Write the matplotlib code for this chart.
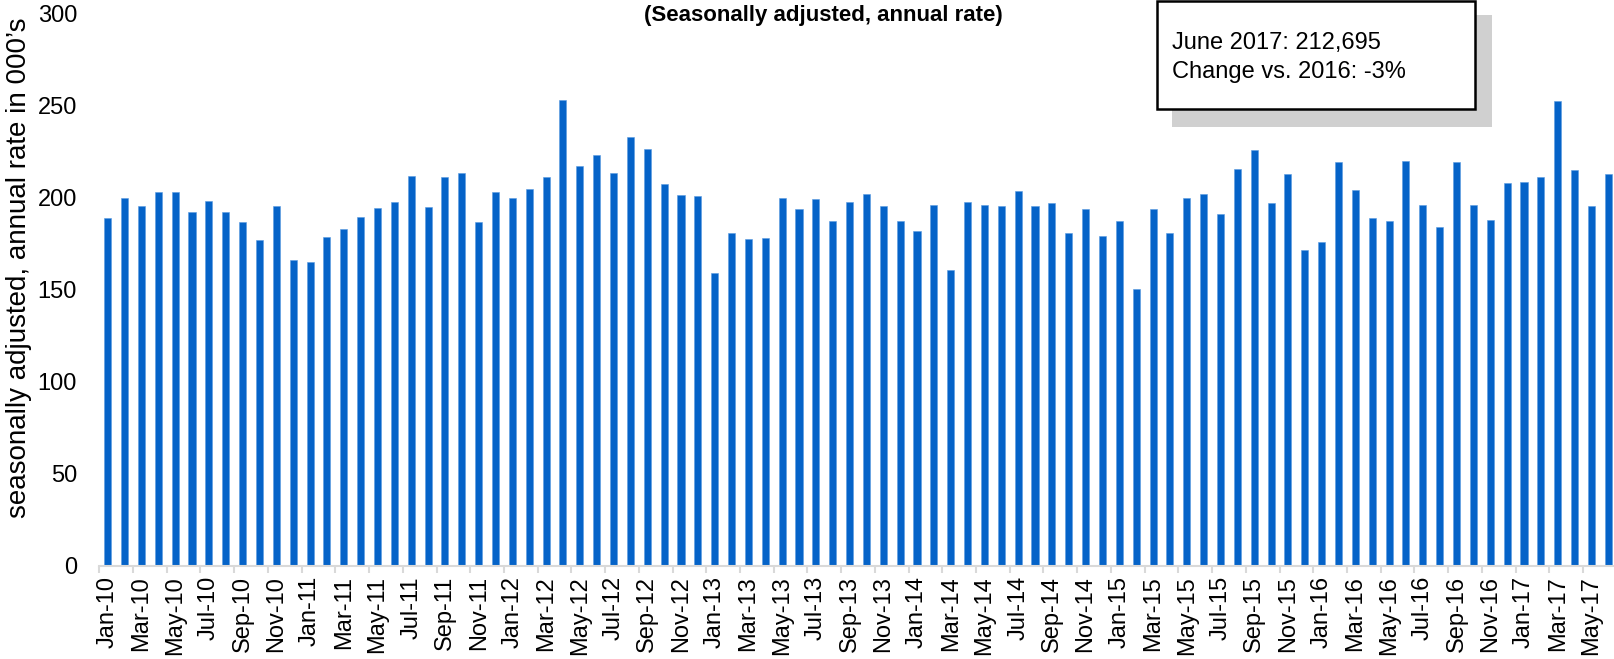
import numpy as np
import matplotlib
matplotlib.use("Agg")
import matplotlib.pyplot as plt
from matplotlib.patches import Rectangle

plt.rcParams['font.family'] = ['Liberation Sans', 'DejaVu Sans']

# monthly values, Jan-10 .. Jun-17 (seasonally adjusted annual rate, 000's)
months = ['Jan', 'Feb', 'Mar', 'Apr', 'May', 'Jun', 'Jul', 'Aug', 'Sep', 'Oct', 'Nov', 'Dec']
years = ['10', '11', '12', '13', '14', '15', '16', '17']
labels = [m + '-' + y for y in years for m in months][:90]

vals_2010 = [188.7, 199.9, 195.5, 202.8, 203.1, 192.1, 197.9, 192.1, 186.5, 176.7, 195.5, 165.9]
vals_2011 = [164.8, 178.5, 182.7, 189.4, 194.4, 197.4, 211.8, 194.6, 211.1, 213.1, 186.5, 202.8]
vals_2012 = [199.5, 204.8, 210.9, 252.9, 216.9, 222.9, 213.1, 232.6, 226.1, 207.1, 201.3, 200.9]
vals_2013 = [159.0, 180.5, 177.4, 177.8, 199.9, 193.7, 199.0, 187.2, 197.4, 201.9, 195.5, 187.2]
vals_2014 = [181.8, 195.7, 160.6, 197.4, 195.7, 195.3, 203.3, 195.3, 196.8, 180.9, 193.7, 179.2]
vals_2015 = [187.4, 150.1, 193.9, 180.5, 199.7, 201.7, 191.2, 215.4, 225.9, 197.1, 212.7, 171.3]
vals_2016 = [175.6, 219.1, 203.9, 189.0, 187.4, 220.0, 196.1, 184.1, 219.1, 196.1, 187.9, 207.8]
vals_2017 = [208.5, 210.9, 252.2, 215.1, 195.3, 212.7]

values = vals_2010 + vals_2011 + vals_2012 + vals_2013 + vals_2014 + vals_2015 + vals_2016 + vals_2017

title = '(Seasonally adjusted, annual rate)'
ylabel = 'seasonally adjusted, annual rate in 000\u2019s'
box_lines = ['June 2017: 212,695', 'Change vs. 2016: -3%']

W, H = 1614, 659
fig = plt.figure(figsize=(W / 100, H / 100), dpi=100)
ax = fig.add_axes([99.3 / W, 93.3 / H, 1517.4 / W, 552.4 / H])

x = np.arange(len(values))
ax.bar(x, values, width=0.42, color='#0563C8', edgecolor='#5A9BE0', linewidth=0.4)

ax.set_xlim(-0.5, len(values) - 0.5)
ax.set_ylim(0, 300)
ax.set_yticks(np.arange(0, 301, 50))
ax.tick_params(axis='y', length=0, pad=16, labelsize=17)

ax.set_xticks(x[::2])
ax.set_xticklabels(labels[::2], rotation=90, fontsize=17)
ax.set_xticks(np.arange(-0.5, len(values), 2), minor=True)
ax.tick_params(axis='x', which='major', length=0, pad=7.5)
ax.tick_params(axis='x', which='minor', length=5, width=1.5, color='#D9D9D9')

for s in ['top', 'right', 'left']:
    ax.spines[s].set_visible(False)
ax.spines['bottom'].set_color('#D9D9D9')
ax.spines['bottom'].set_linewidth(1.5)

ax.set_ylabel(ylabel, fontsize=20, va='center')
ax.yaxis.set_label_coords(-0.0532, 0.54)

fig.text(823 / W, 1 - 15 / H, title, ha='center', va='center', fontsize=16, fontweight='bold')

# annotation box with shadow
fig.add_artist(Rectangle((1171.7 / W, 1 - 126.7 / H), 320 / W, 111.7 / H,
                         transform=fig.transFigure, facecolor='#D0D0D0', edgecolor='none'))
fig.add_artist(Rectangle((1157 / W, 1 - 109.3 / H), 318 / W, 108.3 / H,
                         transform=fig.transFigure, facecolor='white', edgecolor='black', linewidth=1.8))
fig.text(1171.7 / W, 1 - 42.7 / H, box_lines[0], ha='left', va='center', fontsize=17)
fig.text(1171.7 / W, 1 - 71.7 / H, box_lines[1], ha='left', va='center', fontsize=17)

fig.savefig('out.png', dpi=100)
